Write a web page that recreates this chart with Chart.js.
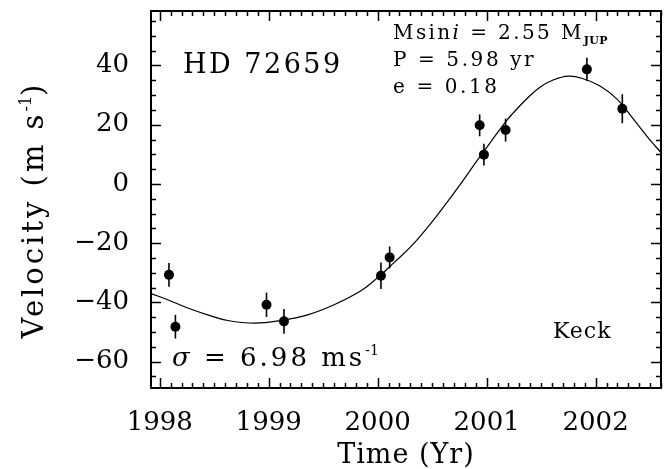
<!DOCTYPE html>
<html lang="en">
<head>
<meta charset="UTF-8" />
<title>HD 72659 radial velocity</title>
<script src="https://cdn.jsdelivr.net/npm/chart.js@4/dist/chart.umd.min.js"></script>
<style>
  html, body { margin: 0; padding: 0; background: #fff; }
</style>
</head>
<body>
<canvas id="rv" width="668" height="469"></canvas>
<script>
// Keck velocities (m/s) with 1-sigma errors
const obsTime = [1998.085, 1998.144, 1998.98, 1999.14, 2000.03, 2000.11, 2000.936, 2000.975, 2001.174, 2001.92, 2002.245];
const obsVel = [-30.7, -48.2, -40.8, -46.4, -31.0, -24.8, 19.8, 9.9, 18.2, 38.7, 25.4];
const obsErr = [4.0, 4.0, 4.1, 4.2, 4.5, 3.7, 3.7, 3.7, 3.9, 3.9, 4.9];

// orbital fit
const fitTime = [1997.92, 1998.073, 1998.257, 1998.44, 1998.624, 1998.869, 1999.113, 1999.358, 1999.6, 1999.85,
  2000.01, 2000.152, 2000.306, 2000.459, 2000.612, 2000.765, 2000.917, 2001.04, 2001.174, 2001.24,
  2001.364, 2001.486, 2001.61, 2001.75, 2001.88, 2002.04, 2002.19, 2002.34, 2002.5, 2002.6];
const fitVel = [-37.0, -39.1, -41.9, -44.2, -46.1, -47.0, -46.1, -44.2, -40.8, -36.0,
  -31.3, -26.5, -21.1, -14.6, -7.4, 0.2, 8.1, 14.3, 21.0, 23.8,
  28.6, 32.6, 35.1, 36.4, 35.6, 33.1, 28.9, 22.2, 14.8, 10.6];

const xTicks = [1998, 1999, 2000, 2001, 2002];
const yTicks = [-60, -40, -20, 0, 20, 40];
const xMinorStep = 0.1;
const yMinorStep = 5;

const FONT = "'DejaVu Serif', serif";

function partsWidth(ctx, parts) {
  let w = 0;
  parts.forEach(p => {
    ctx.font = p.font;
    ctx.letterSpacing = (p.sp || 0) + 'px';
    w += ctx.measureText(p.text).width;
  });
  return w;
}

function drawParts(ctx, parts, x, y) {
  let cx = x;
  parts.forEach(p => {
    ctx.font = p.font;
    ctx.letterSpacing = (p.sp || 0) + 'px';
    ctx.fillText(p.text, cx, y + (p.dy || 0));
    cx += ctx.measureText(p.text).width;
  });
  ctx.letterSpacing = '0px';
}

function minorValues(min, max, step) {
  const out = [];
  for (let k = Math.ceil(min / step - 1e-9); k * step <= max + 1e-9; k++) {
    out.push(Math.round(k * step * 1000) / 1000);
  }
  return out;
}

const framePlugin = {
  id: 'frame',
  afterDatasetsDraw(chart) {
    const { ctx, scales: { x, y } } = chart;
    ctx.save();
    ctx.strokeStyle = '#000';
    ctx.lineWidth = 1.6;
    obsTime.forEach((t, i) => {
      const px = x.getPixelForValue(t);
      ctx.beginPath();
      ctx.moveTo(px, y.getPixelForValue(obsVel[i] - obsErr[i]));
      ctx.lineTo(px, y.getPixelForValue(obsVel[i] + obsErr[i]));
      ctx.stroke();
    });
    ctx.restore();
  },
  afterDraw(chart) {
    const { ctx, chartArea: a, scales: { x, y } } = chart;
    ctx.save();
    ctx.strokeStyle = '#000';
    ctx.fillStyle = '#000';

    // box
    ctx.lineWidth = 2;
    ctx.strokeRect(a.left, a.top, a.right - a.left, a.bottom - a.top);

    // inward ticks on all four sides
    ctx.lineWidth = 1.5;
    ctx.beginPath();
    minorValues(x.min, x.max, xMinorStep).forEach(v => {
      const len = xTicks.includes(v) ? 10 : 5;
      const px = Math.round(x.getPixelForValue(v)) + 0.5;
      ctx.moveTo(px, a.bottom); ctx.lineTo(px, a.bottom - len);
      ctx.moveTo(px, a.top); ctx.lineTo(px, a.top + len);
    });
    minorValues(y.min, y.max, yMinorStep).forEach(v => {
      const len = yTicks.includes(v) ? 10 : 5;
      const py = Math.round(y.getPixelForValue(v)) + 0.5;
      ctx.moveTo(a.left, py); ctx.lineTo(a.left + len, py);
      ctx.moveTo(a.right, py); ctx.lineTo(a.right - len, py);
    });
    ctx.stroke();

    // labels inside the plot
    ctx.textBaseline = 'alphabetic';
    ctx.textAlign = 'left';
    drawParts(ctx, [{ text: 'HD 72659', font: '27px ' + FONT, sp: 2.5 }], a.left + 32, a.top + 62);
    drawParts(ctx, [
      { text: 'Msin', font: '20px ' + FONT, sp: 2.4 },
      { text: 'i', font: 'italic 20px ' + FONT, sp: 2.4 },
      { text: ' = 2.55 M', font: '20px ' + FONT, sp: 2.4 },
      { text: 'JUP', font: 'bold 11px ' + FONT, sp: 0.3, dy: 4.5 }
    ], a.left + 242, a.top + 28);
    drawParts(ctx, [{ text: 'P = 5.98 yr', font: '20px ' + FONT, sp: 2.6 }], a.left + 242, a.top + 55);
    drawParts(ctx, [{ text: 'e = 0.18', font: '20px ' + FONT, sp: 2.6 }], a.left + 242, a.top + 82);
    drawParts(ctx, [
      { text: 'σ', font: 'italic 26px ' + FONT, sp: 3 },
      { text: ' = 6.98 ms', font: '26px ' + FONT, sp: 3 },
      { text: '-1', font: '14px ' + FONT, sp: 0, dy: -11 }
    ], a.left + 21, a.bottom - 22);
    drawParts(ctx, [{ text: 'Keck', font: '22px ' + FONT, sp: 1 }], a.left + 402, a.bottom - 50);

    // axis titles
    const xTitle = [{ text: 'Time (Yr)', font: '27px ' + FONT, sp: 1 }];
    drawParts(ctx, xTitle, (a.left + a.right) / 2 - partsWidth(ctx, xTitle) / 2, 463);

    const yTitle = [
      { text: 'Velocity (m s', font: '29px ' + FONT, sp: 3 },
      { text: '-1', font: '16px ' + FONT, sp: 0, dy: -12 },
      { text: ')', font: '29px ' + FONT, sp: 3 }
    ];
    ctx.translate(43, 210);
    ctx.rotate(-Math.PI / 2);
    drawParts(ctx, yTitle, -partsWidth(ctx, yTitle) / 2, 0);
    ctx.restore();
  }
};

new Chart(document.getElementById('rv'), {
  type: 'scatter',
  data: {
    datasets: [
      {
        type: 'line',
        data: fitTime.map((t, i) => ({ x: t, y: fitVel[i] })),
        borderColor: '#000',
        borderWidth: 1.2,
        pointRadius: 0,
        tension: 0.4,
        fill: false
      },
      {
        data: obsTime.map((t, i) => ({ x: t, y: obsVel[i] })),
        backgroundColor: '#000',
        borderColor: '#000',
        borderWidth: 0,
        pointRadius: 5
      }
    ]
  },
  options: {
    responsive: false,
    animation: false,
    devicePixelRatio: 1,
    layout: { padding: { top: 11, right: 7, left: 0, bottom: 0 } },
    plugins: { legend: { display: false }, tooltip: { enabled: false } },
    scales: {
      x: {
        type: 'linear',
        min: 1997.92,
        max: 2002.6,
        grid: { display: false, drawTicks: false },
        border: { display: false },
        afterBuildTicks: s => { s.ticks = xTicks.map(v => ({ value: v })); },
        afterFit: s => { s.height = 81; s.paddingLeft = 0; s.paddingRight = 0; },
        ticks: {
          color: '#000',
          font: { family: FONT, size: 26 },
          padding: 20,
          maxRotation: 0,
          callback: v => String(v)
        }
      },
      y: {
        min: -68.9,
        max: 58.4,
        grid: { display: false, drawTicks: false },
        border: { display: false },
        afterBuildTicks: s => { s.ticks = yTicks.map(v => ({ value: v })); },
        afterFit: s => { s.width = 151; s.paddingTop = 0; s.paddingBottom = 0; },
        ticks: {
          color: '#000',
          font: { family: FONT, size: 26 },
          padding: 22,
          callback: v => (v < 0 ? '\u2212' + Math.abs(v) : String(v))
        }
      }
    }
  },
  plugins: [framePlugin]
});
</script>
</body>
</html>
